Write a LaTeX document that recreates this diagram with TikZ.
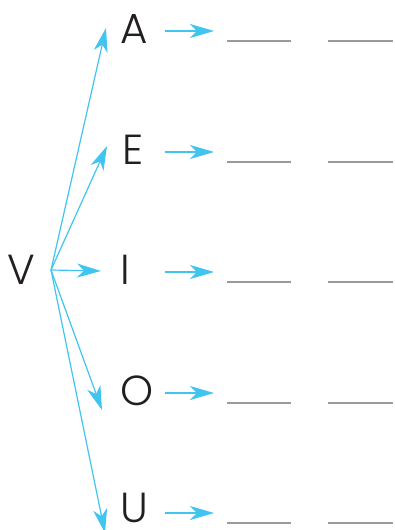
\documentclass[tikz,border=0pt]{standalone}
\usepackage{fontspec}
\setmainfont{Poppins Light}
\usetikzlibrary{arrows.meta}
\definecolor{arrowc}{HTML}{40C4F0}
\definecolor{blankc}{HTML}{9A9A9A}
\definecolor{textc}{HTML}{231F20}
\tikzset{
  letter/.style={font=\fontsize{42}{42}\selectfont, text=textc, inner sep=0pt, anchor=center},
  arr/.style={draw=arrowc, line width=1.2pt, -{Stealth[length=24pt, width=14pt, inset=7pt, fill=arrowc]}},
  blank/.style={draw=blankc, line width=2pt}
}
\begin{document}
\begin{tikzpicture}
\useasboundingbox (0pt,0pt) rectangle (394pt,-530pt);
\node[letter] (V) at (21pt,-270pt) {V};
\coordinate (o) at (51pt,-270pt);
\foreach \n/\l/\y/\ly/\lx/\tx/\ty in {A/A/31/29/134/106/28, E/E/152/150/133/107/146, I/I/272/270/125/101/271, O/O/393/391/137/102/410, U/U/513/508/134/105/533}{
  \node[letter] (\n) at (\lx pt,-\ly pt) {\l};
  \coordinate (t\n) at (\tx pt,-\ty pt);
  \draw[arr] (o) -- (t\n);
  \coordinate (h\n s) at (165pt,-\y pt);
  \coordinate (h\n e) at (214pt,-\y pt);
  \draw[arr] (h\n s) -- (h\n e);
  \coordinate (b\n a) at (227pt,-\y pt-10pt);
  \coordinate (b\n b) at (291pt,-\y pt-10pt);
  \coordinate (b\n c) at (328pt,-\y pt-10pt);
  \coordinate (b\n d) at (393pt,-\y pt-10pt);
  \draw[blank] (b\n a) -- (b\n b);
  \draw[blank] (b\n c) -- (b\n d);
}
\end{tikzpicture}
\end{document}
